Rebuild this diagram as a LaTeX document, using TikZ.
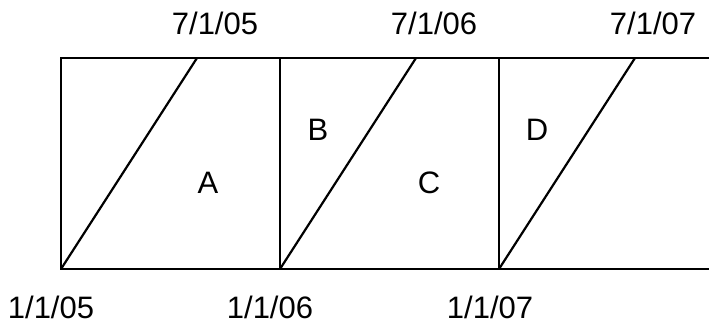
\documentclass[tikz,border=0pt]{standalone}
\usepackage{fontspec}
\setmainfont{Liberation Sans}
\begin{document}
\begin{tikzpicture}[x=1pt,y=-1pt,
  edge/.style={line width=2.2pt,line cap=butt},
  lbl/.style={inner sep=0pt,anchor=base,font=\fontsize{31}{31}\selectfont}]
\useasboundingbox (0,0) rectangle (709,326);
% frame
\coordinate (tl) at (61,58);
\coordinate (bl) at (61,269);
\coordinate (tr) at (709,58);
\coordinate (br) at (709,269);
\coordinate (t1) at (280,58);
\coordinate (b1) at (280,269);
\coordinate (t2) at (499,58);
\coordinate (b2) at (499,269);
\coordinate (d0) at (197,58);
\coordinate (d1) at (416,58);
\coordinate (d2) at (635,58);
\draw[edge] (tr) -- (tl) -- (bl) -- (br);
\draw[edge] (t1) -- (b1);
\draw[edge] (t2) -- (b2);
\draw[edge] (bl) -- (d0);
\draw[edge] (b1) -- (d1);
\draw[edge] (b2) -- (d2);
% labels
\node[lbl] (top05) at (215,35) {7/1/05};
\node[lbl] (top06) at (434,35) {7/1/06};
\node[lbl] (top07) at (653,35) {7/1/07};
\node[lbl] (bot05) at (51,318) {1/1/05};
\node[lbl] (bot06) at (270,318) {1/1/06};
\node[lbl] (bot07) at (490,318) {1/1/07};
\node[lbl] (A) at (208,193) {A};
\node[lbl] (B) at (318,140) {B};
\node[lbl] (C) at (429,193) {C};
\node[lbl] (D) at (537,140) {D};
\end{tikzpicture}
\end{document}
